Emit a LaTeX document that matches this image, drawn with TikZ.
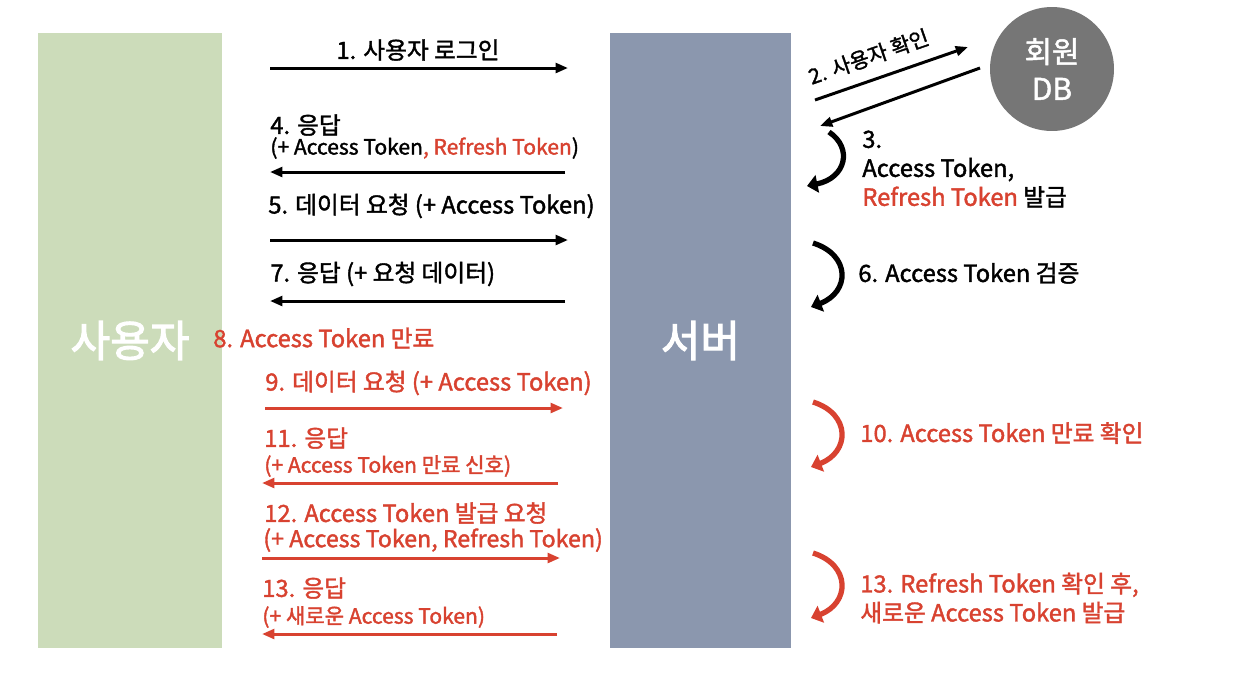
\documentclass[tikz,border=0pt]{standalone}
\usepackage{fontspec}
\newfontfamily\kr{Noto Sans CJK KR}[FakeBold=1.6]
\newfontfamily\krb{Noto Sans CJK KR}[FakeBold=2.5]
\usetikzlibrary{arrows.meta}

\definecolor{usergreen}{RGB}{204,220,186}
\definecolor{serverblue}{RGB}{139,151,174}
\definecolor{dbgray}{RGB}{118,118,118}
\definecolor{expred}{RGB}{216,66,48}

\begin{document}
\begin{tikzpicture}[
  x=0.02cm, y=-0.02cm,
  lane/.style={inner sep=0pt, text=white, font=\krb\fontsize{24.5}{28}\selectfont},
  msg/.style={inner sep=0pt, anchor=west, align=left, font=\kr\fontsize{13.5}{16.5}\selectfont},
  sub/.style={inner sep=0pt, anchor=west, font=\kr\fontsize{12}{14}\selectfont},
  flow/.style={line width=1.7pt, -{Triangle[length=7pt,width=5.5pt]}},
  turn/.style={line width=3pt, -{Triangle[length=6pt,width=10pt]}},
  hot/.style={expred, text=expred}
]

\path[use as bounding box, fill=white] (0,0) rectangle (1244,674);

% ------------------------------------------------------------
% Lifelines and member DB
% ------------------------------------------------------------
\node[lane, fill=usergreen, minimum width=3.68cm, minimum height=12.3cm]
  (user) at (130,340.5) {사용자};
\node[lane, fill=serverblue, minimum width=3.62cm, minimum height=12.3cm]
  (server) at (700.5,340.5) {서버};
\node[circle, fill=dbgray, text=white, minimum size=2.48cm, inner sep=0pt,
  align=center, font=\kr\fontsize{17}{21}\selectfont]
  (db) at (1052,69) {회원\\DB};

% arrow ends
\foreach \n/\y/\xa/\xb in {1/68/270/568, 4/172/270/565, 5/240/270/568,
    7/301/270/565, 9/408/265/563, 11/483/262/558, 12/558/262/560,
    13/634/262/557}
{
  \coordinate (a\n) at (\xa,\y);
  \coordinate (b\n) at (\xb,\y);
}

% ------------------------------------------------------------
% Login and normal requests
% ------------------------------------------------------------
\node[msg, anchor=center] (m1) at (418,50) {1. 사용자 로그인};
\draw[flow] (a1) -- (b1);

\node[msg] (m4) at (270,125) {4. 응답};
\node[sub] (m4s) at (270,148)
  {(+ Access Token\textcolor{expred}{, Refresh Token})};
\draw[flow] (b4) -- (a4);

\node[msg] (m5) at (268,206) {5. 데이터 요청 (+ Access Token)};
\draw[flow] (a5) -- (b5);

\node[msg] (m7) at (270,274) {7. 응답 (+ 요청 데이터)};
\draw[flow] (b7) -- (a7);

% ------------------------------------------------------------
% Expired token and refresh
% ------------------------------------------------------------
\node[msg, hot] (m8) at (213,338) {8. Access Token 만료};

\node[msg, hot] (m9) at (265,383) {9. 데이터 요청 (+ Access Token)};
\draw[flow, hot] (a9) -- (b9);

\node[msg, hot] (m11) at (264,438) {11. 응답};
\node[sub, hot] (m11s) at (264,466) {(+ Access Token 만료 신호)};
\draw[flow, hot] (b11) -- (a11);

\node[msg, hot] (m12) at (264,513) {12. Access Token 발급 요청};
\node[msg, hot, font=\kr\fontsize{13.2}{16}\selectfont] (m12s) at (263,540)
  {(+ Access Token, Refresh Token)};
\draw[flow, hot] (a12) -- (b12);

\node[msg, hot] (m13) at (262,588) {13. 응답};
\node[sub, hot] (m13s) at (262,617) {(+ 새로운 Access Token)};
\draw[flow, hot] (b13) -- (a13);

% ------------------------------------------------------------
% Server side
% ------------------------------------------------------------
\coordinate (d1) at (815,100);
\coordinate (d2) at (968,47);
\coordinate (d3) at (980,68);
\coordinate (d4) at (820,126);
\draw[flow] (d1) -- (d2)
  node[sloped, above=7pt, pos=0.4, inner sep=0pt,
    font=\kr\fontsize{12}{14}\selectfont] (m2) {2. 사용자 확인};
\draw[flow] (d3) -- (d4);

% self checks
\foreach \n/\ya/\yb in {6/243/307, 10/402/467, 13/553/618}
{
  \coordinate (s\n) at (813,\ya);
  \coordinate (e\n) at (811,\yb);
}
\coordinate (s3) at (829,132);
\coordinate (e3) at (807,186);

\draw[turn] (s3) .. controls (853,148) and (846,178) .. (e3);
\draw[turn] (s6) .. controls (851,255) and (850,292) .. (e6);
\draw[turn, hot] (s10) .. controls (851,414) and (850,452) .. (e10);
\draw[turn, hot] (s13) .. controls (851,565) and (850,603) .. (e13);

\node[msg] (n3) at (862,169)
  {3.\\Access Token,\\\textcolor{expred}{Refresh Token} 발급};
\node[msg] (n6) at (858,273) {6. Access Token 검증};
\node[msg, hot] (n10) at (860,433) {10. Access Token 만료 확인};
\node[msg, hot] (n13) at (860,598)
  {13. Refresh Token 확인 후,\\새로운 Access Token 발급};

\end{tikzpicture}
\end{document}
